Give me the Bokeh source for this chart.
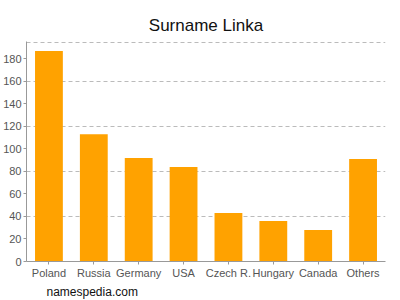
from bokeh.plotting import figure
from bokeh.models import FixedTicker, Title, Range1d
from bokeh.embed import file_html
from bokeh.resources import INLINE

countries = ["Poland", "Russia", "Germany", "USA", "Czech R.", "Hungary", "Canada", "Others"]
counts = [187, 113, 92, 84, 43, 36, 28, 91]
y_ticks = [0, 20, 40, 60, 80, 100, 120, 140, 160, 180]
grid_ticks = [40, 80, 120, 160, 195]

FONT = "Liberation Sans"

p = figure(x_range=countries, width=400, height=300, output_backend="svg",
           toolbar_location=None, min_border_left=25, min_border_right=15,
           min_border_top=41, min_border_bottom=39)
p.y_range = Range1d(0, 195.5)
p.x_range.range_padding = 0

p.vbar(x=countries, top=counts, width=0.62, color="#ffa200", line_color=None)

p.title.text = "Surname Linka"
p.title.align = "center"
p.title.vertical_align = "top"
p.title.text_font = FONT
p.title.text_font_size = "17px"
p.title.text_font_style = "normal"
p.title.text_color = "#111111"
p.title.standoff = 10

foot = Title(text="namespedia.com", align="left", offset=20, standoff=3,
             text_font=FONT, text_font_size="12px", text_font_style="normal",
             text_color="#111111")
p.add_layout(foot, "below")

p.outline_line_color = None
p.xgrid.grid_line_color = None
p.ygrid.ticker = FixedTicker(ticks=grid_ticks)
p.ygrid.grid_line_color = "#bbbbbb"
p.ygrid.grid_line_dash = "4 3"

p.yaxis.ticker = FixedTicker(ticks=y_ticks)
for ax in (p.xaxis[0], p.yaxis[0]):
    ax.axis_line_color = "#999999"
    ax.major_tick_line_color = "#999999"
    ax.minor_tick_line_color = None
    ax.major_label_text_font = FONT
    ax.major_label_text_font_size = "11px"
    ax.major_label_text_color = "#555555"
    ax.major_tick_out = 3
    ax.major_tick_in = 0
    ax.major_label_standoff = 2

open("out.html", "w").write(file_html(p, INLINE))
